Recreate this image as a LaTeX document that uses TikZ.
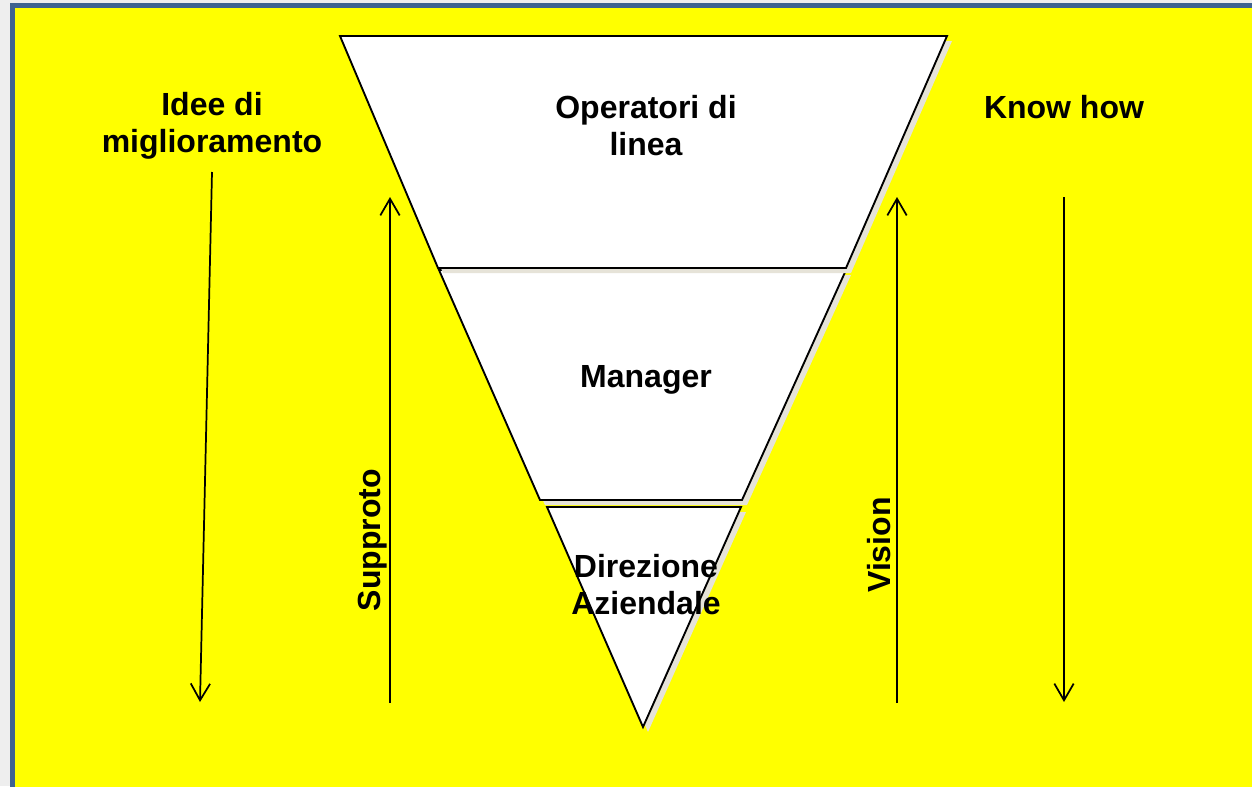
\documentclass[tikz,border=0pt]{standalone}
\usepackage{fontspec}
\setmainfont{Liberation Sans}
\usetikzlibrary{arrows.meta}
\definecolor{framebg}{HTML}{EEEEEE}
\definecolor{frameblue}{HTML}{3F6390}
\definecolor{panel}{HTML}{FFFF00}
\definecolor{shade}{HTML}{E6E3D8}
\begin{document}
\begin{tikzpicture}[x=0.75pt,y=-0.75pt,
  lbl/.style={font=\fontsize{24}{27.75}\selectfont\bfseries, align=center, inner sep=0pt},
  layer/.style={fill=white, draw=black, line width=1.4pt, line join=miter},
  shadow/.style={fill=shade, draw=none},
  flow/.style={draw=black, line width=1.3pt, -{Straight Barb[length=12.5pt,width=14.5pt,line width=1.3pt]}}]
  % page and frame
  \useasboundingbox (0,0) rectangle (1252,786);
  \fill[framebg] (0,0) rectangle (1252,786);
  \fill[frameblue] (10,3) rectangle (1260,800);
  \fill[panel] (15,8) rectangle (1260,800);

  % bottom layer: Direzione Aziendale
  \fill[shadow] (552,512) -- (746,512) -- (648,732) -- cycle;
  \draw[layer] (547,507) -- (741,507) -- (643,727) -- cycle;
  % middle layer: Manager
  \fill[shadow] (444,275) -- (851,275) -- (747,505) -- (545,505) -- cycle;
  \draw[layer] (439,270) -- (846,270) -- (742,500) -- (540,500) -- cycle;
  % top layer: Operatori di linea
  \fill[shadow] (345,41) -- (952,41) -- (851,273) -- (443,273) -- cycle;
  \draw[layer] (340,36) -- (947,36) -- (846,268) -- (438,268) -- cycle;

  % texts
  \node[lbl] (op) at (646,126) {Operatori di\\linea};
  \node[lbl] (mg) at (646,380) {Manager};
  \node[lbl] (dz) at (646,585) {Direzione\\Aziendale};
  \node[lbl] (idee) at (212,126) {Idee di\\miglioramento};
  \node[lbl] (know) at (1064,107) {Know how};
  \node[lbl, rotate=90] (sup) at (373,540) {Supproto};
  \node[lbl, rotate=90] (vis) at (879,545) {Vision};

  % arrows
  \coordinate (a1s) at (212,172); \coordinate (a1e) at (200,702);
  \coordinate (a2s) at (390,703); \coordinate (a2e) at (390,197);
  \coordinate (a3s) at (897,703); \coordinate (a3e) at (897,197);
  \coordinate (a4s) at (1064,197); \coordinate (a4e) at (1064,702);
  \draw[flow] (a1s) -- (a1e);
  \draw[flow] (a2s) -- (a2e);
  \draw[flow] (a3s) -- (a3e);
  \draw[flow] (a4s) -- (a4e);
\end{tikzpicture}
\end{document}
